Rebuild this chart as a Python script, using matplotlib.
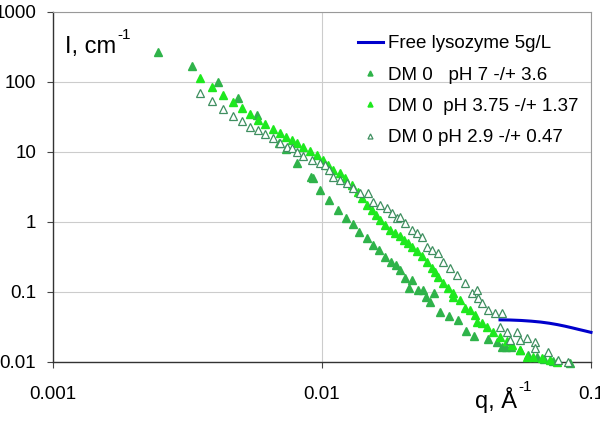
import matplotlib
matplotlib.use("Agg")
import matplotlib.pyplot as plt

plt.rcParams['font.family'] = ['Liberation Sans', 'DejaVu Sans']
plt.rcParams['mathtext.default'] = 'regular'

# Free lysozyme 5 g/L (line)
free_q = [0.0459, 0.050, 0.055, 0.060, 0.065, 0.070, 0.075, 0.080, 0.085, 0.090, 0.095, 0.100]
free_I = [0.0400, 0.0398, 0.0392, 0.0383, 0.0372, 0.0358, 0.0342, 0.0325, 0.0308, 0.0292, 0.0278, 0.0265]

# DM 0 pH 7
ph7_q = [0.002455, 0.003286, 0.004106, 0.004872, 0.005733, 0.006921, 0.007348, 0.008075, 0.009103,
         0.009260, 0.00983, 0.01062, 0.01147, 0.01228, 0.01303, 0.01372, 0.01470, 0.01547, 0.01629,
         0.01715, 0.01806, 0.01884, 0.01950, 0.02036, 0.02161, 0.02105, 0.02275, 0.02374, 0.02435,
         0.02520, 0.02608, 0.02747, 0.02965, 0.03202, 0.03429, 0.03673, 0.04141, 0.04473, 0.04668,
         0.04831, 0.05042, 0.05445, 0.05833, 0.06300, 0.06688, 0.07224, 0.08356]
ph7_I = [268, 169, 100, 59.0, 33.8, 13.4, 11.0, 6.96, 4.39,
         4.20, 2.86, 2.06, 1.48, 1.14, 0.936, 0.720, 0.591, 0.469, 0.398,
         0.316, 0.268, 0.243, 0.206, 0.158, 0.148, 0.114, 0.107, 0.107, 0.0849,
         0.0720, 0.0968, 0.0518, 0.0454, 0.0398, 0.0277, 0.0235, 0.0213, 0.0193, 0.0164,
         0.0164, 0.0166, 0.0148, 0.0126, 0.0118, 0.0110, 0.0103, 0.00968]

# DM 0 pH 3.75
ph375_q = [0.003520, 0.003901, 0.004285, 0.004668, 0.005042, 0.005400, 0.005782, 0.006139, 0.006573,
           0.006982, 0.007348, 0.007734, 0.008075, 0.008499, 0.009025, 0.009581, 0.01009, 0.01053,
           0.01099, 0.01167, 0.01218, 0.01293, 0.01361, 0.01408, 0.01470, 0.01534, 0.01588, 0.01643,
           0.01715, 0.01790, 0.01868, 0.01950, 0.02018, 0.02088, 0.02161, 0.02255, 0.02353, 0.02457,
           0.02563, 0.02630, 0.02698, 0.02818, 0.02941, 0.03069, 0.03069, 0.03258, 0.03400, 0.03549,
           0.03706, 0.03769, 0.03934, 0.04106, 0.04323, 0.04589, 0.04872, 0.05085, 0.05445, 0.05782,
           0.06087, 0.06573, 0.07042, 0.07474]
ph375_I = [114, 84.9, 65.2, 51.8, 42.5, 34.9, 28.6, 25.1, 21.3,
           18.7, 16.4, 14.8, 13.4, 11.8, 10.3, 9.06, 7.69, 6.52,
           5.53, 5.01, 4.25, 3.38, 2.68, 2.20, 1.75, 1.48, 1.26, 1.07,
           0.906, 0.769, 0.697, 0.631, 0.553, 0.501, 0.440, 0.385, 0.327, 0.268,
           0.220, 0.193, 0.164, 0.135, 0.114, 0.0968, 0.0849, 0.0769, 0.0591, 0.0553,
           0.0469, 0.0373, 0.0361, 0.0316, 0.0268, 0.0228, 0.0200, 0.0175, 0.0148, 0.0118,
           0.0118, 0.0114, 0.0107, 0.0100]

# DM 0 pH 2.9
ph29_q = [0.003520, 0.003901, 0.004285, 0.004668, 0.005042, 0.005400, 0.005782, 0.006139, 0.006573,
          0.006982, 0.007411, 0.007734, 0.008075, 0.008499, 0.009181, 0.00983, 0.01026, 0.01062,
          0.01099, 0.01167, 0.01238, 0.01303, 0.01384, 0.01483, 0.01547, 0.01643, 0.01744, 0.01820,
          0.01900, 0.01950, 0.02036, 0.02161, 0.02255, 0.02353, 0.02457, 0.02563, 0.02698, 0.02818,
          0.02990, 0.03175, 0.03400, 0.03611, 0.03769, 0.03802, 0.03934, 0.04141, 0.04397, 0.04668,
          0.04589, 0.04872, 0.05308, 0.05000, 0.05445, 0.05782, 0.06190, 0.06190, 0.06921, 0.07538,
          0.08214]
ph29_I = [69.6, 53.5, 41.1, 32.7, 27.7, 22.8, 20.6, 18.1, 15.8,
          13.4, 11.8, 11.4, 10.0, 8.77, 7.69, 6.96, 6.52, 5.53,
          4.39, 3.98, 3.61, 3.06, 2.60, 2.60, 1.93, 1.75, 1.58, 1.35,
          1.14, 1.18, 0.968, 0.769, 0.697, 0.611, 0.440, 0.398, 0.361, 0.268,
          0.220, 0.175, 0.135, 0.0968, 0.107, 0.0821, 0.0697, 0.0553, 0.0501, 0.0501,
          0.0316, 0.0268, 0.0268, 0.0206, 0.0206, 0.0220, 0.0193, 0.0158, 0.0139, 0.0107,
          0.0100]

x_ticks = [0.001, 0.01, 0.1]
x_tick_labels = ['0.001', '0.01', '0.1']
y_ticks = [0.01, 0.1, 1, 10, 100, 1000]
y_tick_labels = ['0.01', '0.1', '1', '10', '100', '1000']

fig = plt.figure(figsize=(6.0, 4.24), dpi=100)
ax = fig.add_axes([53/600, 1 - 362/424, (591 - 53)/600, (362 - 12)/424])
ax.set_xscale('log')
ax.set_yscale('log')
ax.set_xlim(0.001, 0.1)
ax.set_ylim(0.01, 1000)

c7 = '#2fb34a'
c375 = '#1ee81e'
c29 = '#3f8f60'

ax.plot(free_q, free_I, color='#0000cc', lw=2.2, label='Free lysozyme 5g/L', zorder=5, clip_on=False)
ax.plot(ph7_q, ph7_I, ls='none', marker='^', ms=6, color=c7, mec=c7, label='DM 0   pH 7 -/+ 3.6', zorder=3, clip_on=False)
ax.plot(ph375_q, ph375_I, ls='none', marker='^', ms=6, color=c375, mec=c375, label='DM 0  pH 3.75 -/+ 1.37', zorder=3, clip_on=False)
ax.plot(ph29_q, ph29_I, ls='none', marker='^', ms=6, mfc='white', mec=c29, mew=0.9, label='DM 0 pH 2.9 -/+ 0.47', zorder=4, clip_on=False)

ax.set_xticks(x_ticks)
ax.set_xticklabels(x_tick_labels)
ax.set_yticks(y_ticks)
ax.set_yticklabels(y_tick_labels)
ax.minorticks_off()
ax.tick_params(axis='both', which='major', labelsize=13.5, direction='out', length=4, width=0.8, color='#444444')
ax.tick_params(axis='x', pad=13)
ax.tick_params(axis='y', pad=8)

ax.grid(True, which='major', color='#cccccc', lw=0.8)
ax.set_axisbelow(True)
for s in ['left', 'bottom']:
    ax.spines[s].set_color('#333333')
    ax.spines[s].set_linewidth(1.0)
for s in ['top', 'right']:
    ax.spines[s].set_color('#999999')
    ax.spines[s].set_linewidth(0.8)

t1 = fig.text(65/600, 1 - 53/424, 'I, cm', fontsize=17, ha='left', va='baseline')
ax.annotate('-1', xy=(1, 1), xycoords=t1, xytext=(1, 5.5), textcoords='offset points',
            fontsize=11, ha='left', va='top')
t2 = fig.text(475/600, 1 - 408/424, 'q, Å', fontsize=17, ha='left', va='baseline')
ax.annotate('-1', xy=(1, 1), xycoords=t2, xytext=(1, 5), textcoords='offset points',
            fontsize=11, ha='left', va='top')

leg = ax.legend(loc='upper left', bbox_to_anchor=((358 - 53)/538, 1 - (35 - 12)/350), frameon=False,
                fontsize=13.5, handlelength=1.33, handletextpad=0.27, labelspacing=0.76,
                borderaxespad=0, borderpad=0, markerscale=0.6)

fig.savefig('out.png', dpi=100)
